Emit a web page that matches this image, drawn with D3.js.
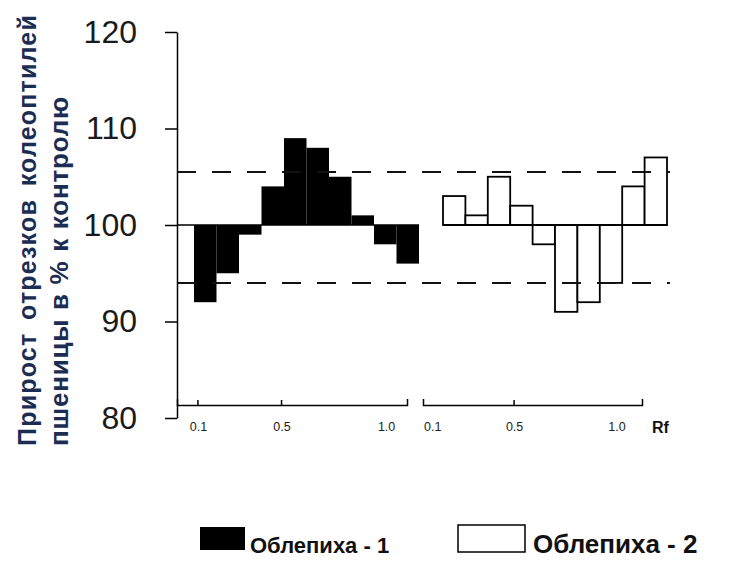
<!DOCTYPE html>
<html>
<head>
<meta charset="utf-8">
<script src="https://cdn.jsdelivr.net/npm/d3@7"></script>
<style>
  body { margin: 0; background: #fff; }
  text { font-family: "Liberation Sans", Arial, sans-serif; }
</style>
</head>
<body>
<script>
var width = 756, height = 563;

// bar heights, % of control (10 Rf zones each)
var series1 = [92, 95, 99, 104, 109, 108, 105, 101, 98, 96];
var series2 = [103, 101, 105, 102, 98, 91, 92, 94, 104, 107];
var zones = d3.range(1, 11);
var yTicks = [80, 90, 100, 110, 120];
var rfLabels = [0.1, 0.5, 1.0];
var limits = [94, 105.5];
var legendNames = ["Облепиха - 1", "Облепиха - 2"];
var titleLines = ["Прирост отрезков колеоптилей", "пшеницы в % к контролю"];

var svg = d3.select("body").append("svg")
    .attr("width", width)
    .attr("height", height);

var y = d3.scaleLinear().domain([80, 120]).range([418, 32]);
var axisX = 177, baseY = 405;

// y axis
var yAxis = svg.append("g")
    .attr("transform", "translate(" + axisX + ",0)")
    .call(d3.axisLeft(y).tickValues(yTicks).tickSize(12).tickSizeOuter(0).tickPadding(28));
yAxis.selectAll("path, line").attr("stroke", "#000").attr("stroke-width", 1.5);
yAxis.selectAll("text")
    .attr("font-size", 32)
    .attr("fill", "#1a1a1a")
    .style("font-family", "'Liberation Sans', Arial, sans-serif");

// two Rf axes
var panels = [
    { x: d3.scaleLinear().domain([0, 1.1]).range([177, 407]), marks: [0.1, 0.5] },
    { x: d3.scaleLinear().domain([0.055, 1.125]).range([423, 642]), marks: [0.5] }
];
panels.forEach(function(p) {
    var g = svg.append("g").attr("transform", "translate(0," + baseY + ")");
    var ax = g.call(d3.axisBottom(p.x).tickValues(rfLabels).tickSize(0).tickSizeOuter(-6).tickPadding(17)
        .tickFormat(d3.format(".1f")));
    ax.select(".domain").attr("stroke", "#000").attr("stroke-width", 1.5);
    ax.selectAll("text")
        .attr("font-size", 12.5)
        .attr("fill", "#222")
        .style("font-family", "'Liberation Sans', Arial, sans-serif");
    g.selectAll(".mark")
        .data(p.marks)
        .enter().append("line")
        .attr("class", "mark")
        .attr("x1", function(d) { return p.x(d); })
        .attr("x2", function(d) { return p.x(d); })
        .attr("y1", 0).attr("y2", -5)
        .attr("stroke", "#000").attr("stroke-width", 1.5);
});

svg.append("text")
    .attr("x", 652).attr("y", 433)
    .attr("font-size", 16).attr("font-weight", "bold")
    .attr("fill", "#111")
    .text("Rf");

// bars
var x1 = d3.scaleBand().domain(zones).range([194, 419]);
var x2 = d3.scaleBand().domain(zones).range([443, 667]);

svg.append("line")
    .attr("x1", axisX).attr("x2", x1.range()[1])
    .attr("y1", y(100)).attr("y2", y(100))
    .attr("stroke", "#000").attr("stroke-width", 1.5);

svg.selectAll(".bar1")
    .data(series1)
    .enter().append("rect")
    .attr("class", "bar1")
    .attr("x", function(d, i) { return x1(zones[i]); })
    .attr("width", x1.bandwidth())
    .attr("y", function(d) { return y(Math.max(d, 100)); })
    .attr("height", function(d) { return Math.abs(y(d) - y(100)); })
    .attr("fill", "#000");

svg.selectAll(".bar2")
    .data(series2)
    .enter().append("rect")
    .attr("class", "bar2")
    .attr("x", function(d, i) { return x2(zones[i]); })
    .attr("width", x2.bandwidth())
    .attr("y", function(d) { return y(Math.max(d, 100)); })
    .attr("height", function(d) { return Math.abs(y(d) - y(100)); })
    .attr("fill", "#fff")
    .attr("stroke", "#000")
    .attr("stroke-width", 1.8);

svg.append("line")
    .attr("x1", x2.range()[0]).attr("x2", x2.range()[1])
    .attr("y1", y(100)).attr("y2", y(100))
    .attr("stroke", "#000").attr("stroke-width", 1.8);

// dashed confidence limits
svg.selectAll(".limit")
    .data(limits)
    .enter().append("line")
    .attr("class", "limit")
    .attr("x1", axisX).attr("x2", 670)
    .attr("y1", function(d) { return y(d); })
    .attr("y2", function(d) { return y(d); })
    .attr("stroke", "#111")
    .attr("stroke-width", 2)
    .attr("stroke-dasharray", "19,16");

// y title, words spread out to the reference length
var titleSpec = [{ x: 36, size: 25, ls: 1.2, len: 432 }, { x: 68, size: 26, ls: 0.8, len: 350 }];
svg.selectAll(".ytitle")
    .data(titleLines)
    .enter().append("text")
    .attr("class", "ytitle")
    .attr("transform", function(d, i) { return "translate(" + titleSpec[i].x + ",446) rotate(-90)"; })
    .attr("font-size", function(d, i) { return titleSpec[i].size; })
    .attr("font-weight", "bold")
    .attr("fill", "#1c2c52")
    .style("letter-spacing", function(d, i) { return titleSpec[i].ls + "px"; })
    .text(function(d) { return d; })
    .each(function(d, i) {
        var gaps = d.split(" ").length - 1;
        var extra = (titleSpec[i].len - this.getComputedTextLength()) / gaps;
        d3.select(this).style("word-spacing", Math.max(extra, 0) + "px");
    });

// legend
svg.append("rect")
    .attr("x", 200).attr("y", 527).attr("width", 45).attr("height", 23)
    .attr("fill", "#000");
svg.append("rect")
    .attr("x", 458).attr("y", 525).attr("width", 67).attr("height", 27)
    .attr("fill", "#fff").attr("stroke", "#000").attr("stroke-width", 1.5);
svg.append("text")
    .attr("x", 250).attr("y", 553)
    .attr("font-size", 22).attr("font-weight", "bold").attr("fill", "#111")
    .text(legendNames[0]);
svg.append("text")
    .attr("x", 533).attr("y", 553)
    .attr("font-size", 26).attr("font-weight", "bold").attr("fill", "#111")
    .text(legendNames[1]);
</script>
</body>
</html>
